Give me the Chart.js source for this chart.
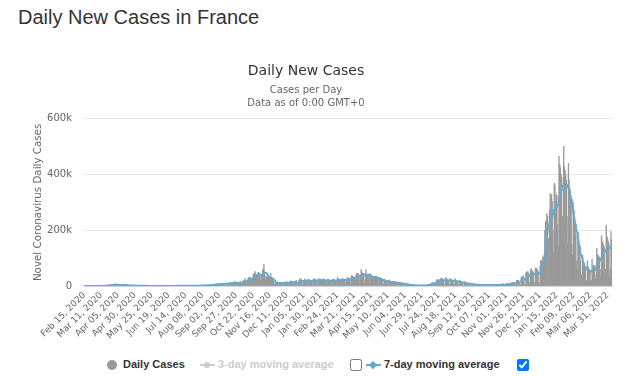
<!DOCTYPE html>
<html>
<head>
<meta charset="utf-8">
<script src="https://cdn.jsdelivr.net/npm/chart.js@4.4.1/dist/chart.umd.min.js"></script>
<style>
  body { margin: 0; background: #fff; width: 640px; height: 376px; overflow: hidden; position: relative; }
  #heading { position: absolute; left: 18px; top: 6px; font: 20px 'Liberation Sans', Arial, sans-serif; color: #333; }
  #box { position: absolute; left: 0; top: 52px; width: 640px; height: 298px; }
  .lg { position: absolute; top: 358px; line-height: 14px; font: bold 11px 'Liberation Sans', Arial, sans-serif; color: #333; white-space: nowrap; }
  .off { color: #ccc; }
  .dot { position: absolute; top: 360px; width: 10px; height: 10px; border-radius: 50%; background: #999; left: 107px; }
  .sym { position: absolute; top: 364px; height: 2px; width: 15px; }
  .mk { position: absolute; width: 6px; height: 6px; }
  input { position: absolute; margin: 0; top: 359px; width: 12px; height: 12px; }
</style>
</head>
<body>
<div id="heading">Daily New Cases in France</div>
<div id="box"><canvas id="chart"></canvas></div>

<div class="dot"></div>
<div class="lg" style="left:123px">Daily Cases</div>
<div class="sym" style="left:200px;background:#ccc"></div>
<div class="mk" style="left:204px;top:362px;border-radius:50%;background:#ccc"></div>
<div class="lg off" style="left:218px">3-day moving average</div>
<input type="checkbox" style="left:350px">
<div class="sym" style="left:366px;background:#6aa9c9"></div>
<div class="mk" style="left:370px;top:362px;background:#6aa9c9;transform:rotate(45deg)"></div>
<div class="lg" style="left:384px">7-day moving average</div>
<input type="checkbox" checked style="left:517px">

<script>
// daily new cases, thousands, one line per month
const cases2020 = [
  0,0,0,0,0,0,0,0,0,0,0,0,0,0,0.1,
  0,0,0.1,0.1,0.1,0.2,0.2,0.1,0.3,0.4,0.5,0.6,0.8,0.8,0.9,1.2,1.1,1.4,1.9,1.6,1.8,1.6,3.8,2.4,2.9,3.9,3.8,4.6,2.6,4.4,7.6,
  4.9,2.1,5.2,4.2,1.9,2.9,3.9,4.3,4.3,4.8,3.1,2.9,2.7,5.5,4.6,2.6,2.6,1.9,1.1,2.4,2.7,2.6,1.6,1.6,1.6,1.1,1.3,1.3,1.2,1.1,
  0.9,0.8,0.6,0.5,0.6,1.0,0.8,0.6,0.5,0.3,0.4,0.8,0.6,0.5,0.4,0.3,0.3,0.4,0.5,0.5,0.4,0.3,0.3,0.1,0.3,0.4,0.4,0.3,0.3,0.2,0.2,
  0.3,0.3,0.4,0.6,0.6,0.5,0.4,0.2,0.4,0.6,0.4,0.5,0.4,0.3,0.2,0.4,0.4,0.5,0.4,0.3,0.3,0.3,0.4,0.5,0.6,0.5,0.3,0.3,0.4,0.5,
  0.6,0.6,0.6,0.5,0.4,0.4,0.5,0.7,0.6,0.8,0.7,0.5,0.4,0.6,0.8,0.8,0.9,0.7,0.6,0.9,1.0,1.0,1.1,1.1,0.9,0.7,1.0,1.2,1.3,1.4,1.3,
  1.3,1.0,1.5,1.6,1.7,2.0,2.3,2.1,1.4,1.9,2.5,2.8,2.7,2.9,3.1,2.3,2.6,3.8,4.0,4.5,4.6,4.8,3.6,3.3,5.4,5.4,6.1,7.4,5.4,4.9,7.0,
  5.0,6.3,8.1,9.0,8.5,7.1,4.2,6.5,8.6,9.8,9.4,10.6,7.2,5.0,7.8,9.8,10.6,13.2,11.0,9.2,6.3,10.0,13.1,16.1,13.5,11.4,10.5,4.1,8.5,12.8,
  13.0,12.1,17.0,12.6,5.0,10.5,18.7,18.1,20.3,26.9,16.1,8.5,12.9,22.6,30.6,25.1,32.4,29.8,13.2,20.5,26.7,41.6,42.0,45.4,52.0,26.8,33.4,36.4,47.6,49.2,35.6,
  46.3,22.6,36.4,40.6,58.0,60.5,78.0,38.6,20.2,35.9,33.2,28.4,33.2,32.1,27.2,9.4,45.5,28.4,21.1,22.9,17.9,11.0,4.4,9.2,13.6,13.6,12.4,11.0,9.8,4.0,
  8.1,13.0,11.2,12.9,12.0,11.0,3.4,11.0,14.6,13.8,13.5,13.9,11.5,3.1,11.5,17.6,18.3,15.7,15.1,12.3,5.9,12.1,17.7,15.2,20.3,3.1,4.6,11.5,19.9,26.5,20.0
];
const cases2021 = [
  25.0,12.5,3.5,20.4,19.8,25.4,21.7,19.9,20.2,15.9,3.3,23.9,21.2,21.3,21.3,19.6,16.6,3.9,23.6,26.8,22.8,23.3,20.3,18.4,4.2,22.1,26.9,22.0,23.8,24.4,20.0,
  4.4,19.3,26.4,23.3,22.9,20.6,19.7,4.3,19.8,25.4,21.0,21.2,20.1,17.9,4.3,19.9,25.1,22.4,23.2,21.2,19.0,4.4,20.6,31.5,25.4,25.2,23.3,22.0,
  4.8,22.0,26.8,25.3,25.0,23.5,21.8,4.4,23.3,29.9,27.0,29.1,26.3,26.1,6.5,29.9,38.5,34.4,34.9,30.6,30.6,6.5,31.9,45.6,41.3,45.6,42.6,37.0,9.1,36.2,59.0,
  50.7,46.7,46.7,41.2,9.1,23.0,58.7,42.6,41.2,42.9,41.6,8.5,39.5,43.0,34.9,35.0,32.1,29.1,9.1,34.7,35.7,30.3,34.3,32.3,24.3,4.7,30.3,30.3,26.4,25.6,
  24.3,9.9,4.2,24.4,24.2,19.1,19.1,15.4,12.9,3.2,19.6,21.5,16.0,15.9,13.8,10.4,3.1,16.8,16.1,14.8,13.9,13.6,8.5,3.9,11.5,12.8,12.1,11.5,9.5,7.5,2.1,
  8.2,6.6,4.4,9.1,7.6,5.1,1.2,5.0,4.1,4.4,4.1,3.6,3.0,0.5,3.3,2.9,2.1,2.5,2.9,2.0,0.3,2.3,2.5,2.1,2.0,1.6,1.5,0.3,2.9,2.9,
  2.7,2.9,2.5,0.6,2.4,3.8,4.2,4.9,5.9,4.3,1.9,7.9,10.9,4.2,12.5,10.9,10.9,4.1,4.3,18.2,21.9,21.5,22.2,24.0,8.4,5.4,27.3,28.8,26.7,26.0,20.4,
  6.9,3.5,28.9,29.0,24.4,23.6,20.7,7.1,2.4,26.4,25.0,22.4,20.5,21.0,6.5,2.9,26.9,22.3,20.3,17.3,16.8,5.4,2.6,21.3,17.4,16.0,13.8,14.5,4.1,1.3,16.3,
  13.4,11.5,9.2,8.0,2.2,0.9,10.9,9.2,8.9,7.9,6.4,1.6,0.6,7.9,6.0,6.3,5.4,4.4,1.2,0.3,6.0,5.3,5.2,4.9,4.2,1.1,0.3,5.4,4.6,4.0,
  3.9,3.5,1.0,0.3,5.4,4.8,4.5,4.3,3.6,0.9,0.4,5.5,5.2,5.0,4.9,4.0,1.1,0.5,6.1,5.6,5.7,5.3,4.9,1.3,0.7,7.2,6.9,6.6,6.1,5.7,1.3,
  0.6,8.4,8.0,9.2,10.0,8.6,2.3,1.1,12.5,12.0,11.9,13.2,11.2,2.7,1.2,20.3,20.3,19.8,21.6,17.0,4.9,2.9,30.5,32.6,33.5,37.6,30.0,7.2,4.3,47.2,
  50.0,49.6,52.1,46.3,12.3,3.8,59.0,61.3,56.6,53.0,49.2,13.4,2.9,63.4,65.7,58.5,58.5,52.0,12.8,6.0,72.8,91.6,88.0,94.1,104.6,100,110,200,230,235,260
];
const cases2022 = [
  250,170,160,272,332,262,328,304,200,120,368,362,305,328,324,220,140,465,436,425,401,390,250,160,501,428,415,400,380,250,150,
  440,380,350,320,290,150,110,300,262,240,210,180,90,60,190,150,125,105,90,40,30,110,88,76,68,60,20,18,
  90,70,62,60,56,15,20,96,74,70,72,75,25,40,135,112,110,106,102,35,60,180,160,155,148,140,30,60,218,178,170,160,
  150,30,60,195,165
];

const tickLabels = [
  'Feb 15, 2020','Mar 11, 2020','Apr 05, 2020','Apr 30, 2020','May 25, 2020','Jun 19, 2020','Jul 14, 2020','Aug 08, 2020',
  'Sep 02, 2020','Sep 27, 2020','Oct 22, 2020','Nov 16, 2020','Dec 11, 2020','Jan 05, 2021','Jan 30, 2021','Feb 24, 2021',
  'Mar 21, 2021','Apr 15, 2021','May 10, 2021','Jun 04, 2021','Jun 29, 2021','Jul 24, 2021','Aug 18, 2021','Sep 12, 2021',
  'Oct 07, 2021','Nov 01, 2021','Nov 26, 2021','Dec 21, 2021','Jan 15, 2022','Feb 09, 2022','Mar 06, 2022','Mar 31, 2022'
];
const tickStep = 25;

const daily = cases2020.concat(cases2021, cases2022);

const months = ['Jan','Feb','Mar','Apr','May','Jun','Jul','Aug','Sep','Oct','Nov','Dec'];
const start = Date.UTC(2020, 1, 15);
const dias = daily.map((v, i) => {
  const d = new Date(start + i * 86400000);
  return months[d.getUTCMonth()] + ' ' + String(d.getUTCDate()).padStart(2, '0') + ', ' + d.getUTCFullYear();
});

// media movel de 7 dias
const media7 = daily.map((v, i) => {
  const janela = daily.slice(Math.max(0, i - 6), i + 1);
  return janela.reduce((a, b) => a + b, 0) / janela.length;
});

Chart.defaults.font.family = "'DejaVu Sans', sans-serif";
Chart.defaults.color = '#666';

new Chart(document.getElementById('chart'), {
  type: 'bar',
  data: {
    labels: dias,
    datasets: [{
      type: 'line',
      label: '7-day moving average',
      data: media7,
      borderColor: '#6aa9c9',
      borderWidth: 2,
      pointRadius: 0,
      tension: 0
    }, {
      label: 'Daily Cases',
      data: daily,
      backgroundColor: '#999',
      borderWidth: 0,
      barPercentage: 1,
      categoryPercentage: 1
    }]
  },
  options: {
    responsive: true,
    maintainAspectRatio: false,
    animation: false,
    layout: { padding: { left: 0, right: 28, top: 0, bottom: 0 } },
    plugins: {
      legend: { display: false },
      tooltip: { enabled: false },
      title: {
        display: true,
        text: 'Daily New Cases',
        color: '#333',
        font: { size: 14, weight: 'normal' },
        padding: { top: 11, bottom: 4 }
      },
      subtitle: {
        display: true,
        text: ['Cases per Day', 'Data as of 0:00 GMT+0'],
        color: '#666',
        font: { size: 10, lineHeight: 1.3 },
        padding: { top: 0, bottom: 9 }
      }
    },
    scales: {
      x: {
        grid: { display: false, drawTicks: false },
        border: { display: true, color: '#ccd6eb' },
        ticks: {
          autoSkip: false,
          minRotation: 45,
          maxRotation: 45,
          padding: 4,
          font: { size: 9 },
          color: '#666',
          callback: value => value % tickStep === 0 ? tickLabels[value / tickStep] : ''
        },
        afterBuildTicks: axis => {
          axis.ticks = axis.ticks.filter(t => t.value % tickStep === 0);
        },
        afterFit: axis => { axis.height = 64; }
      },
      y: {
        min: 0,
        max: 600,
        grid: { color: '#e6e6e6', drawTicks: false },
        border: { display: false },
        ticks: {
          stepSize: 200,
          padding: 12,
          font: { size: 10 },
          color: '#666',
          callback: v => v === 0 ? '0' : v + 'k'
        },
        title: {
          display: true,
          text: 'Novel Coronavirus Daily Cases',
          color: '#666',
          font: { size: 10.3 },
          padding: { top: 32, bottom: 0 }
        },
        afterFit: axis => { axis.width = 84; }
      }
    }
  }
});
</script>
</body>
</html>
